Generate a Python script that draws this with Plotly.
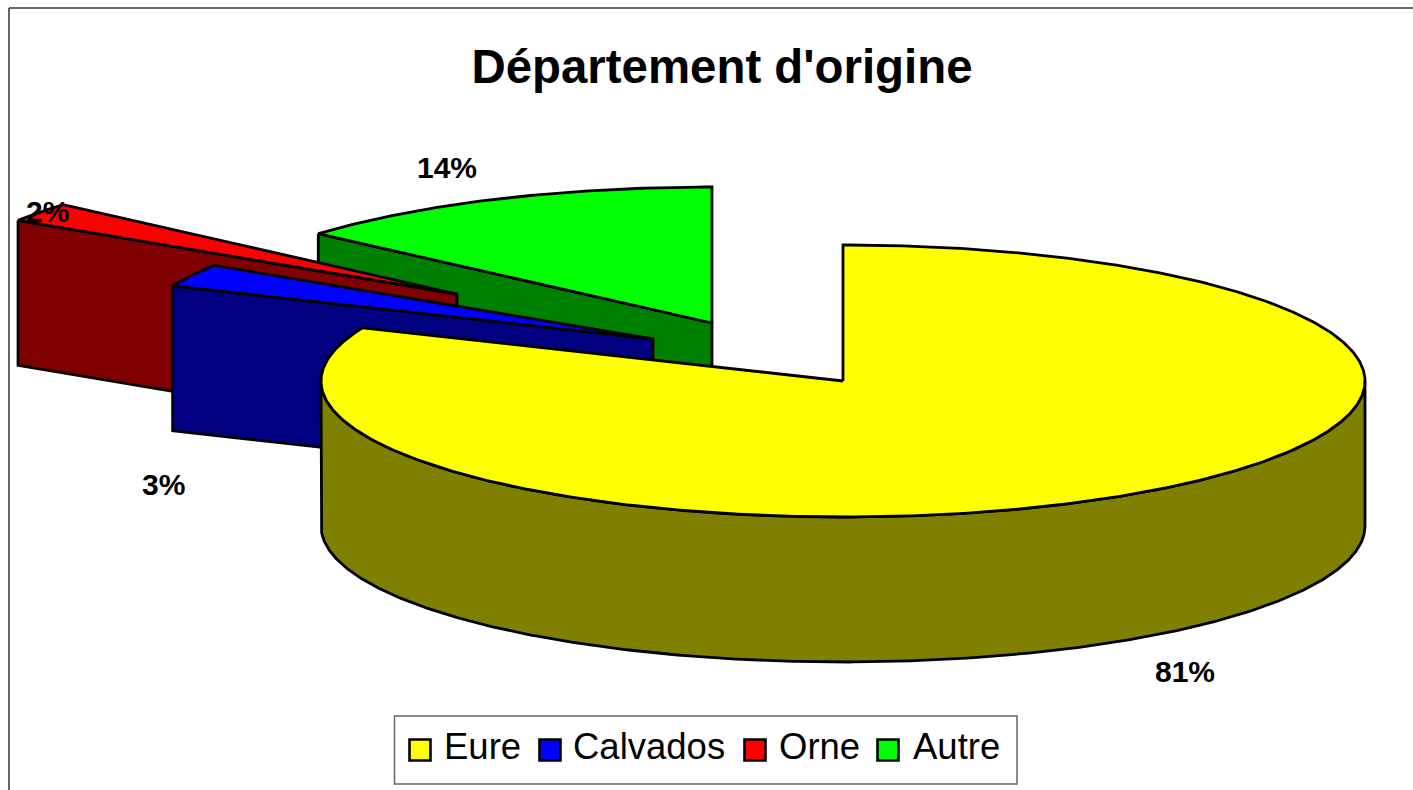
import numpy as np
import plotly.graph_objects as go

TITLE = "Département d'origine"
categories = ["Eure", "Calvados", "Orne", "Autre"]
values = [81.4, 2.7, 2.3, 13.6]
top_colors = ["#ffff00", "#0000ff", "#ff0000", "#00ff00"]
wall_colors = ["#808000", "#000080", "#800000", "#008000"]

# projection of the tilted, exploded pie onto the page (pixels)
RX, RY, DEPTH = 522, 136, 145
apex_x = [843, 653, 457, 712]
apex_y = [381, 339, 294, 323]
label_x = [1185, 163, 47, 447]
label_y = [671, 484, 211, 167]
draw_order = [3, 2, 1, 0]
LW = 2.8

# legend layout (pixels)
key_x = [420, 550, 755, 888]
key_y = 750
key_text_x = [442, 571, 777, 911]
key_text_y = 746
legend_box = (394.5, 716, 1017, 784)

stops = np.concatenate([[0], np.cumsum(values)]) / sum(values) * 2 * np.pi


def rim(i, a0, a1, dz=0):
    t = np.linspace(a0, a1, max(2, int(abs(a1 - a0) * 120)))
    return apex_x[i] + RX * np.sin(t), apex_y[i] - RY * np.cos(t) + dz


fig = go.Figure()

for i in draw_order:
    a0, a1 = stops[i], stops[i + 1]
    if i == 0:  # curved outer wall, visible front half
        xa, ya = rim(i, np.pi / 2, 3 * np.pi / 2)
        xb, yb = rim(i, 3 * np.pi / 2, np.pi / 2, DEPTH)
        wx, wy = np.r_[xa, xb, xa[0]], np.r_[ya, yb, ya[0]]
    else:  # flat radial wall from the rim to the apex
        sx, sy = rim(i, a0, a0)
        sx, sy = sx[0], sy[0]
        wx = [sx, apex_x[i], apex_x[i], sx, sx]
        wy = [sy, apex_y[i], apex_y[i] + DEPTH, sy + DEPTH, sy]
    fig.add_trace(go.Scatter(x=wx, y=wy, mode="lines", fill="toself",
                             fillcolor=wall_colors[i], showlegend=False, hoverinfo="skip",
                             line=dict(color="black", width=LW)))
    tx, ty = rim(i, a0, a1)
    fig.add_trace(go.Scatter(x=np.r_[apex_x[i], tx, apex_x[i]], y=np.r_[apex_y[i], ty, apex_y[i]],
                             mode="lines", fill="toself", fillcolor=top_colors[i],
                             showlegend=False, name=categories[i],
                             line=dict(color="black", width=LW)))

# legend keys and entries (plotly's own legend caps its key size below the reference's)
fig.add_trace(go.Scatter(x=key_x, y=[key_y] * len(key_x), mode="markers", showlegend=False,
                         hoverinfo="skip",
                         marker=dict(symbol="square", size=21, color=top_colors,
                                     line=dict(color="black", width=2.6))))
for name, x in zip(categories, key_text_x):
    fig.add_annotation(x=x, y=key_text_y, text=name, showarrow=False, xanchor="left",
                       font=dict(family="Liberation Sans", size=36.5, color="black"))

for v, x, y in zip(values, label_x, label_y):
    fig.add_annotation(x=x, y=y, text=f"<b>{round(v)}%</b>", showarrow=False,
                       font=dict(family="Liberation Sans", size=30, color="black"))

fig.update_layout(
    width=1413, height=790,
    margin=dict(l=0, r=0, t=0, b=0),
    paper_bgcolor="white", plot_bgcolor="white",
    font=dict(family="Liberation Sans", color="black"),
    title=dict(text=f"<b>{TITLE}</b>", x=722 / 1413, xanchor="center",
               y=1 - 66 / 790, yanchor="middle", font=dict(size=47.4, color="black")),
    xaxis=dict(range=[0, 1413], visible=False, fixedrange=True),
    yaxis=dict(range=[790, 0], visible=False, fixedrange=True),
    showlegend=False,
    shapes=[
        dict(type="line", xref="paper", yref="paper", x0=9 / 1413, x1=1, y0=1 - 8 / 790, y1=1 - 8 / 790,
             line=dict(color="#333333", width=1.5)),
        dict(type="line", xref="paper", yref="paper", x0=9 / 1413, x1=9 / 1413, y0=1 - 8 / 790, y1=0,
             line=dict(color="#333333", width=1.5)),
        dict(type="rect", x0=legend_box[0], y0=legend_box[1], x1=legend_box[2], y1=legend_box[3],
             line=dict(color="#666666", width=1.5)),
    ],
)

fig.write_html("out.html", config={"displayModeBar": False},
               post_script="document.body.style.margin='0';document.documentElement.style.overflow='hidden';")
